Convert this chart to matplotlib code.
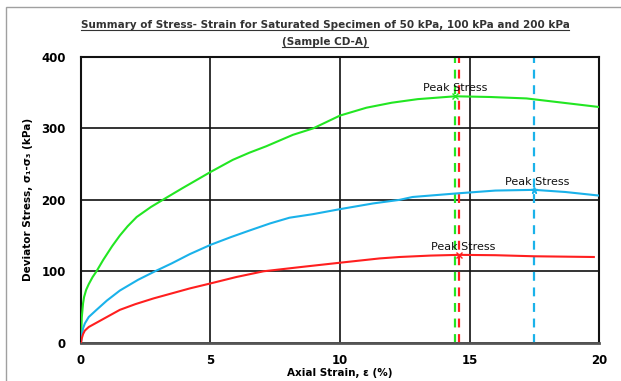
import matplotlib
matplotlib.use('Agg')
import matplotlib.pyplot as plt
from matplotlib.patches import Rectangle
from matplotlib.lines import Line2D

# Stress-strain data (strain in %, stress in kPa)
strain_200 = [0, 0.03, 0.08, 0.12, 0.2, 0.3, 0.45, 0.6, 0.86, 1.2, 1.5, 1.8, 2.15,
              2.7, 3.25, 3.9, 4.57, 5, 5.86, 6.5, 7.15, 8.18, 8.96, 10, 11.02,
              12.0, 13.0, 14.45, 15.8, 17.2, 18.6, 20]
stress_200 = [0, 35, 55, 64, 74, 82, 92, 100, 116, 135, 150, 163, 176,
              190, 202, 216, 230, 239, 256, 266, 275, 291, 300, 318, 329,
              336, 341, 345, 344, 342, 336, 330]

strain_100 = [0, 0.03, 0.08, 0.15, 0.3, 0.6, 1.0, 1.5, 2.2, 2.86, 3.5, 4.2, 5,
              5.8, 6.5, 7.3, 8.05, 8.96, 10, 11.28, 12.3, 12.8, 14.5, 16,
              17.5, 18.7, 20]
stress_100 = [0, 10, 20, 27, 36, 46, 59, 73, 88, 100, 111, 124, 137,
              148, 157, 167, 175, 180, 187, 195, 200, 204, 209, 213,
              214, 211, 206]

strain_50 = [0, 0.03, 0.08, 0.15, 0.3, 0.6, 1.0, 1.5, 2.1, 2.8, 3.5, 4.2, 5,
             6, 7.05, 8.5, 10, 11.53, 12.3, 13.5, 14.6, 16, 17.5, 19.8]
stress_50 = [0, 6, 12, 17, 22, 28, 36, 46, 54, 62, 69, 76, 83,
             92, 100, 106, 112, 118, 120, 122, 123, 122.5, 121, 120]

peak_strain = {'200': 14.45, '100': 17.5, '50': 14.6}
peak_stress = {'200': 345, '100': 214, '50': 123}

colors = {'200': '#22e622', '100': '#1ab2ea', '50': '#ff1f1f'}

fig = plt.figure(figsize=(6.21, 3.81), dpi=100)
ax = fig.add_axes([0.1304, 0.1005, 0.8342, 0.7499])

# thin grey frame around the figure
fig.patches.append(Rectangle((6 / 621, -0.2), 1.2, 1.2 - 7 / 381,
                             transform=fig.transFigure, fill=False,
                             edgecolor='#a0a0a0', linewidth=1.0))

ax.plot(strain_200, stress_200, color=colors['200'], lw=1.5, zorder=3)
ax.plot(strain_100, stress_100, color=colors['100'], lw=1.5, zorder=3)
ax.plot(strain_50, stress_50, color=colors['50'], lw=1.5, zorder=3)

markers = {'200': 'x', '100': '*', '50': 'x'}
text_dx = {'200': 0.0, '100': 0.1, '50': 0.15}
for key in ['200', '100', '50']:
    ax.axvline(peak_strain[key], color=colors[key], lw=1.6,
               linestyle=(0, (4, 3)), zorder=2)
    ax.plot(peak_strain[key], peak_stress[key], marker=markers[key],
            color=colors[key], ms=5, mew=1.0, zorder=4)
    ax.text(peak_strain[key] + text_dx[key], peak_stress[key] + 11, 'Peak Stress',
            ha='center', va='center', fontsize=8, color='#111111', zorder=5)

ax.set_xlim(0, 20)
ax.set_ylim(0, 400)
ax.set_xticks([0, 5, 10, 15, 20])
ax.set_yticks([0, 100, 200, 300, 400])
ax.grid(True, color='#111111', lw=1.2)
ax.set_axisbelow(True)
for s in ['left', 'right', 'top']:
    ax.spines[s].set_color('#111111')
    ax.spines[s].set_linewidth(1.5)
ax.spines['bottom'].set_color('#555555')
ax.spines['bottom'].set_linewidth(2)

ax.tick_params(axis='both', length=0, labelsize=8.5)
ax.tick_params(axis='x', pad=8)
ax.tick_params(axis='y', pad=11)
for lab in ax.get_xticklabels() + ax.get_yticklabels():
    lab.set_fontweight('bold')

ax.set_xlabel('Axial Strain, ε (%)', fontsize=7.5, fontweight='bold', labelpad=1)
ax.set_ylabel('Deviator Stress, σ₁-σ₃ (kPa)', fontsize=7.5, fontweight='bold', labelpad=6)

t1 = fig.text(325 / 621, 1 - 25 / 381, 'Summary of Stress- Strain for Saturated Specimen of 50 kPa, 100 kPa and 200 kPa',
              ha='center', va='center', fontsize=7.5, fontweight='bold', color='#333333')
t2 = fig.text(325 / 621, 1 - 42 / 381, '(Sample CD-A)',
              ha='center', va='center', fontsize=7.5, fontweight='bold', color='#333333')

# underline the title lines
fig.canvas.draw()
renderer = fig.canvas.get_renderer()
inv = fig.transFigure.inverted()
for t in (t1, t2):
    bb = t.get_window_extent(renderer)
    (x0, y0), (x1, y1) = inv.transform([(bb.x0, bb.y0), (bb.x1, bb.y1)])
    fig.add_artist(Line2D([x0, x1], [y0 + 0.5 / 381, y0 + 0.5 / 381],
                          transform=fig.transFigure, color='#333333', lw=0.8))

fig.savefig('out.png', dpi=100)
